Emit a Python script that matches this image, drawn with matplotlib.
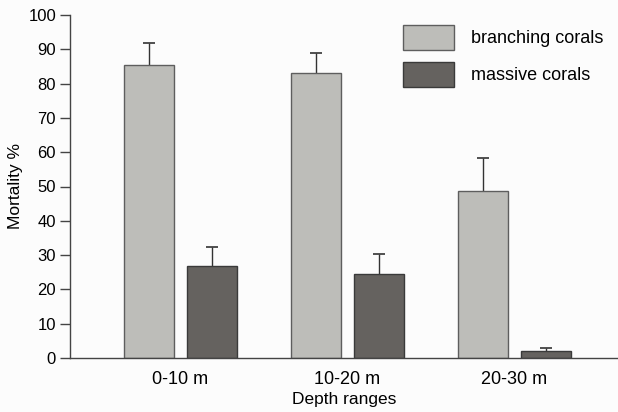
import numpy as np
import matplotlib
matplotlib.use('Agg')
import matplotlib.pyplot as plt

plt.rcParams['font.family'] = ['Liberation Sans', 'DejaVu Sans']

depths = ["0-10 m", "10-20 m", "20-30 m"]
branching = [85.3, 83.2, 48.7]
branching_err = [6.4, 5.6, 9.7]
massive = [26.9, 24.5, 1.9]
massive_err = [5.5, 5.7, 1.0]

fig = plt.figure(figsize=(6.18, 4.12), dpi=100, facecolor='#fcfcfc')
ax = fig.add_axes([70/618, 1-358/412, 548/618, 343/412])
ax.set_facecolor('#fcfcfc')

x = np.arange(len(depths))
w = 0.30
off = 0.187

def upper_err(xpos, vals, errs):
    # only the upper half of the error bar, with its cap
    eb = ax.errorbar(xpos, vals, yerr=[np.zeros(len(vals)), errs], fmt='none',
                     ecolor='#333333', elinewidth=1, capsize=4.5, capthick=1.2, zorder=1)
    eb[1][0].set_visible(False)

upper_err(x - off, branching, branching_err)
upper_err(x + off, massive, massive_err)
ax.bar(x - off, branching, w, color='#bdbdb9', edgecolor='#5e5e5e', linewidth=1,
       zorder=2, label='branching corals')
ax.bar(x + off, massive, w, color='#65625f', edgecolor='#3a3a3a', linewidth=1,
       zorder=2, label='massive corals')

ax.set_xlim(-0.662, 2.62)
ax.set_ylim(0, 100)
ax.set_yticks(range(0, 101, 10))
ax.set_xticks(x)
ax.set_xticklabels(depths, fontsize=13)
ax.tick_params(axis='x', length=0, pad=9)
ax.tick_params(axis='y', length=7, width=1, color='#444444', labelsize=12, pad=3)
for s in ['top', 'right']:
    ax.spines[s].set_visible(False)
for s in ['left', 'bottom']:
    ax.spines[s].set_color('#444444')
    ax.spines[s].set_linewidth(1)
ax.set_ylabel("Mortality %", fontsize=12.5, labelpad=4)
ax.set_xlabel("Depth ranges", fontsize=12.5, labelpad=3)

leg = ax.legend(loc='upper left', bbox_to_anchor=(0.595, 0.991), frameon=False, fontsize=13,
                borderaxespad=0, handlelength=2.83, handleheight=1.72,
                handletextpad=0.9, labelspacing=0.67)

plt.savefig("out.png", dpi=100, facecolor=fig.get_facecolor())
